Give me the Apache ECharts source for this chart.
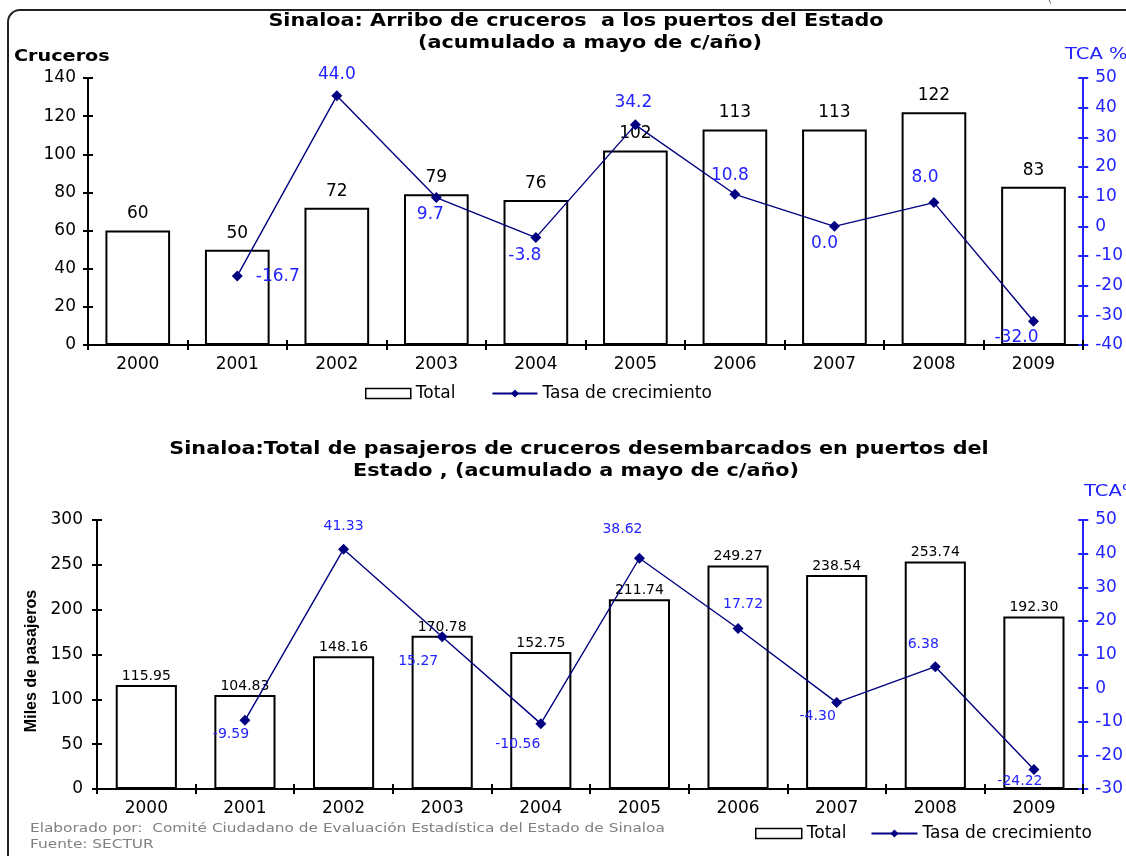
<!DOCTYPE html>
<html><head><meta charset="utf-8">
<script src="https://cdn.jsdelivr.net/npm/echarts@6/dist/echarts.min.js"></script>
<style>html,body{margin:0;padding:0;background:#fff}#c{width:1126px;height:856px}</style>
</head><body><div id="c"></div>
<script>
// ---- data ----
const years = ['2000','2001','2002','2003','2004','2005','2006','2007','2008','2009'];
const crucerosTotal = [60, 50, 72, 79, 76, 102, 113, 113, 122, 83];
const crucerosTasa = [null, -16.7, 44.0, 9.7, -3.8, 34.2, 10.8, 0.0, 8.0, -32.0];
const pasajerosTotal = [115.95, 104.83, 148.16, 170.78, 152.75, 211.74, 249.27, 238.54, 253.74, 192.30];
const pasajerosTasa = [null, -9.59, 41.33, 15.27, -10.56, 38.62, 17.72, -4.30, 6.38, -24.22];

// ---- label placement (style) ----
const topRateLabel = [null,
  {position:'right', offset:[8,1]}, {position:'top', offset:[0,-2]}, {position:'bottom', offset:[-6,-2]},
  {position:'bottom', offset:[-11,-1]}, {position:'top', offset:[-2,-3]}, {position:'top', offset:[-5,0]},
  {position:'bottom', offset:[-10,-2]}, {position:'top', offset:[-9,-6]}, {position:'bottom', offset:[-17,-3]}];
const botRateLabel = [null,
  {position:'bottom', offset:[-14,-4]}, {position:'top', offset:[0,-5]}, {position:'bottom', offset:[-24,7]},
  {position:'bottom', offset:[-23,3]}, {position:'top', offset:[-17,-11]}, {position:'top', offset:[5,-7]},
  {position:'bottom', offset:[-19,-4]}, {position:'top', offset:[-12,-5]}, {position:'bottom', offset:[-14,-6]}];

const FF = 'DejaVu Sans';
const BLUE = '#2323ff';
const NAVY = '#000080';
const SX = 1.22; // horizontal stretch of the reference lettering

function lineData(vals, labs, digits, fs){
  return vals.map((v,i)=> v==null ? null : ({
    value: v,
    label: Object.assign({show:true, color:BLUE, fontFamily:FF, fontSize:fs,
      formatter: p => Number(p.value).toFixed(digits)}, labs[i])
  }));
}

function catAxis(grid, inner){
  return {
    type:'category', gridIndex:grid, data:years, position:'bottom', boundaryGap:true,
    axisLine:{show:!inner, onZero:false, lineStyle:{color:'#000', width:2}},
    axisTick:{show:true, inside:inner, length:5, lineStyle:{color:'#000', width:2}},
    axisLabel:{show:!inner, color:'#000', fontFamily:FF, fontSize:17, margin:11},
    splitLine:{show:false}
  };
}
function valAxis(grid, pos, mn, mx, itv, color, inner, margin){
  return {
    type:'value', gridIndex:grid, position:pos, min:mn, max:mx, interval:itv,
    axisLine:{show:!inner, onZero:false, lineStyle:{color:color, width:2}},
    axisTick:{show:true, inside:inner, length:5, lineStyle:{color:color, width:2}},
    axisLabel:{show:!inner, color:color, fontFamily:FF, fontSize:17, margin:margin},
    splitLine:{show:false}
  };
}
function txt(x, y, text, font, fill, align, extra){
  return Object.assign({type:'text', x:x, y:y, scaleX:SX, silent:true,
    style:{text:text, textAlign:align||'left', textVerticalAlign:'middle', fill:fill, font:font}}, extra||{});
}

const chart = echarts.init(document.getElementById('c'), null, {renderer:'canvas'});
chart.setOption({
  backgroundColor:'#fff',
  animation:false,
  grid:[
    {left:88, right:42, top:78, height:267},
    {left:97, right:35, top:520, height:269}
  ],
  xAxis:[catAxis(0,false), catAxis(0,true), catAxis(1,false), catAxis(1,true)],
  yAxis:[
    valAxis(0,'left',0,140,20,'#000',false,12),
    valAxis(0,'right',-40,50,10,BLUE,false,12),
    valAxis(0,'left',0,140,20,'#000',true,12),
    valAxis(0,'right',-40,50,10,BLUE,true,12),
    valAxis(1,'left',0,300,50,'#000',false,14),
    valAxis(1,'right',-30,50,10,BLUE,false,12),
    valAxis(1,'left',0,300,50,'#000',true,14),
    valAxis(1,'right',-30,50,10,BLUE,true,12)
  ],
  legend:[
    {left:360, top:380, itemWidth:45, itemHeight:10, itemGap:36,
     textStyle:{fontFamily:FF, fontSize:17, color:'#000'},
     data:[{name:'Total', icon:'rect', itemStyle:{color:'#fff', borderColor:'#000', borderWidth:1.5}},
           {name:'Tasa de crecimiento'}]},
    {left:750, top:820, itemWidth:46, itemHeight:10, itemGap:24,
     textStyle:{fontFamily:FF, fontSize:17, color:'#000'},
     data:[{name:'Total', icon:'rect', itemStyle:{color:'#fff', borderColor:'#000', borderWidth:1.5}},
           {name:'Tasa de crecimiento'}]}
  ],
  series:[
    {name:'Total', type:'bar', xAxisIndex:0, yAxisIndex:0, data:crucerosTotal, barWidth:'65%',
     itemStyle:{color:'#fff', borderColor:'#000', borderWidth:2},
     label:{show:true, position:'top', distance:8, color:'#000', fontFamily:FF, fontSize:17}},
    {name:'Tasa de crecimiento', type:'line', xAxisIndex:0, yAxisIndex:1, z:5,
     data:lineData(crucerosTasa, topRateLabel, 1, 17),
     symbol:'diamond', symbolSize:11, lineStyle:{color:NAVY, width:1.4}, itemStyle:{color:NAVY}},
    {name:'Total', type:'bar', xAxisIndex:2, yAxisIndex:4, data:pasajerosTotal, barWidth:'62%',
     itemStyle:{color:'#fff', borderColor:'#000', borderWidth:2},
     label:{show:true, position:'top', distance:2, color:'#000', fontFamily:FF, fontSize:14,
       formatter:p=>Number(p.value).toFixed(2)}},
    {name:'Tasa de crecimiento', type:'line', xAxisIndex:2, yAxisIndex:5, z:5,
     data:lineData(pasajerosTasa, botRateLabel, 2, 14),
     symbol:'diamond', symbolSize:11, lineStyle:{color:NAVY, width:1.4}, itemStyle:{color:NAVY}}
  ],
  graphic:[
    {type:'rect', shape:{x:8, y:10, width:1300, height:1000, r:12}, silent:true,
     style:{fill:'none', stroke:'#222', lineWidth:2}},
    {type:'text', x:1047, y:-9, silent:true, style:{text:'(', fill:'#777', font:'14px '+FF}},
    txt(576, 22, 'Sinaloa: Arribo de cruceros  a los puertos del Estado', 'bold 17px '+FF, '#000', 'center'),
    txt(590, 44, '(acumulado a mayo de c/año)', 'bold 17px '+FF, '#000', 'center'),
    txt(14, 57, 'Cruceros', 'bold 15px '+FF, '#000', 'left', {scaleX:1.28}),
    txt(1065, 55, 'TCA %', '16px '+FF, BLUE, 'left'),
    txt(579, 450, 'Sinaloa:Total de pasajeros de cruceros desembarcados en puertos del', 'bold 17px '+FF, '#000', 'center'),
    txt(576, 472, 'Estado , (acumulado a mayo de c/año)', 'bold 17px '+FF, '#000', 'center'),
    txt(1084, 492, 'TCA%', '16px '+FF, BLUE, 'left'),
    {type:'text', x:32, y:661, rotation:Math.PI/2, silent:true, style:{text:'Miles de pasajeros', textAlign:'center', textVerticalAlign:'middle', fill:'#000', font:'bold 16px "Liberation Sans Narrow", "Liberation Sans", sans-serif'}},
    txt(30, 829, 'Elaborado por:  Comité Ciudadano de Evaluación Estadística del Estado de Sinaloa', '13px '+FF, '#808080', 'left', {scaleX:1.18}),
    txt(30, 845, 'Fuente: SECTUR', '13px '+FF, '#808080', 'left', {scaleX:1.18})
  ]
});
</script>
</body></html>
